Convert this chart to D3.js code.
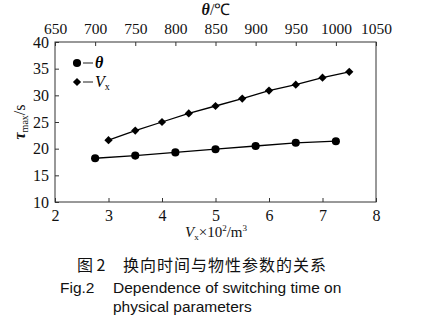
<!DOCTYPE html>
<html>
<head>
<meta charset="utf-8">
<script src="https://cdn.jsdelivr.net/npm/d3@7/dist/d3.min.js"></script>
<style>
  html, body { margin: 0; padding: 0; background: #fff; }
  svg { display: block; }
</style>
</head>
<body>
<svg id="chart" width="425" height="322"></svg>
<script>
// Switching time vs. temperature (top axis) and volume (bottom axis)
const vxTicks = [2, 3, 4, 5, 6, 7, 8];
const thetaTicks = [650, 700, 750, 800, 850, 900, 950, 1000, 1050];
const yTicks = [10, 15, 20, 25, 30, 35, 40];

const thetaX = [700, 750, 800, 850, 900, 950, 1000];
const thetaY = [18.2, 18.7, 19.3, 19.9, 20.5, 21.1, 21.4];

const vxX = [3, 3.5, 4, 4.5, 5, 5.5, 6, 6.5, 7, 7.5];
const vxY = [21.6, 23.4, 25.0, 26.6, 28.0, 29.4, 30.9, 32.0, 33.3, 34.4];

const serif = '"Liberation Serif", "Times New Roman", serif';
const svg = d3.select("#chart");
const L = 55, R = 376, T = 42, B = 202;

const x = d3.scaleLinear().domain([2, 8]).range([L, R]);
const xTop = d3.scaleLinear().domain([650, 1050]).range([L, R]);
const y = d3.scaleLinear().domain([10, 40]).range([B, T]);

// frame
svg.append("rect").attr("x", L).attr("y", T).attr("width", R - L).attr("height", B - T)
  .attr("fill", "none").attr("stroke", "#333").attr("stroke-width", 1);

function styleAxis(size) {
  return g => {
    g.select(".domain").remove();
    g.selectAll(".tick line").attr("stroke", "#333");
    g.selectAll(".tick text")
      .style("font-family", serif).style("font-size", size + "px").attr("fill", "#111");
  };
}

svg.append("g").attr("transform", `translate(0,${B})`)
  .call(d3.axisBottom(x).tickValues(vxTicks).tickSize(-4).tickPadding(8).tickFormat(d3.format("d")))
  .call(styleAxis(16));

svg.append("g").attr("transform", `translate(0,${T})`)
  .call(d3.axisTop(xTop).tickValues(thetaTicks).tickSize(-4).tickPadding(8).tickFormat(d3.format("d")))
  .call(styleAxis(15.5));

svg.append("g").attr("transform", `translate(${L},0)`)
  .call(d3.axisLeft(y).tickValues(yTicks).tickSize(-4).tickPadding(6).tickFormat(d3.format("d")))
  .call(styleAxis(16));

// series lines
const line = d3.line();
svg.append("path")
  .attr("d", line(thetaX.map((v, i) => [xTop(v), y(thetaY[i])])))
  .attr("fill", "none").attr("stroke", "#000").attr("stroke-width", 1.3);
svg.append("path")
  .attr("d", line(vxX.map((v, i) => [x(v), y(vxY[i])])))
  .attr("fill", "none").attr("stroke", "#000").attr("stroke-width", 1.3);

const circleSym = d3.symbol().type(d3.symbolCircle).size(52);
const squareSym = d3.symbol().type(d3.symbolSquare).size(34);

svg.append("g").selectAll("path").data(thetaX).join("path")
  .attr("d", circleSym)
  .attr("transform", (d, i) => `translate(${xTop(d)},${y(thetaY[i])})`)
  .attr("fill", "#000");

svg.append("g").selectAll("path").data(vxX).join("path")
  .attr("d", squareSym)
  .attr("transform", (d, i) => `translate(${x(d)},${y(vxY[i])}) rotate(45)`)
  .attr("fill", "#000");

// legend
const lg = svg.append("g");
lg.append("path").attr("d", circleSym).attr("transform", "translate(77,63)").attr("fill", "#000");
lg.append("line").attr("x1", 83).attr("x2", 93).attr("y1", 63).attr("y2", 63).attr("stroke", "#444").attr("stroke-width", 1.2);
lg.append("text").attr("x", 95).attr("y", 68).style("font-family", serif).style("font-size", "16px")
  .attr("font-style", "italic").attr("font-weight", "bold").text("θ");
lg.append("path").attr("d", squareSym).attr("transform", "translate(77,82) rotate(45)").attr("fill", "#000");
lg.append("line").attr("x1", 83).attr("x2", 93).attr("y1", 82).attr("y2", 82).attr("stroke", "#444").attr("stroke-width", 1.2);
const lv = lg.append("text").attr("x", 95).attr("y", 87).style("font-family", serif).style("font-size", "16px");
lv.append("tspan").attr("font-style", "italic").text("V");
lv.append("tspan").style("font-size", "10px").attr("dy", 3).text("x");

// axis titles
const tt = svg.append("text").attr("x", 216).attr("y", 15).attr("text-anchor", "middle")
  .style("font-family", serif).style("font-size", "16px").attr("fill", "#111");
tt.append("tspan").attr("font-style", "italic").attr("font-weight", "bold").text("θ");
tt.append("tspan").text("/℃");

const xt = svg.append("text").attr("x", 216).attr("y", 237).attr("text-anchor", "middle")
  .style("font-family", serif).style("font-size", "15px").attr("fill", "#111");
xt.append("tspan").attr("font-style", "italic").text("V");
xt.append("tspan").style("font-size", "9px").attr("dy", 3).text("x");
xt.append("tspan").attr("dy", -3).text("×10");
xt.append("tspan").style("font-size", "9px").attr("dy", -6).text("2");
xt.append("tspan").attr("dy", 6).text("/m");
xt.append("tspan").style("font-size", "9px").attr("dy", -6).text("3");

const yt = svg.append("text").attr("transform", "translate(25,122) rotate(-90)").attr("text-anchor", "middle")
  .style("font-family", serif).style("font-size", "16px").attr("fill", "#111");
yt.append("tspan").attr("font-style", "italic").attr("font-weight", "bold").text("τ");
yt.append("tspan").style("font-size", "10px").attr("dy", 3).text("max");
yt.append("tspan").attr("dy", -3).text("/s");

// caption
const sans = '"Liberation Sans", Arial, sans-serif';
const cjk = '"Noto Sans CJK SC", sans-serif';
svg.append("text").attr("x", 77).attr("y", 271).style("font-size", "16px").attr("fill", "#111")
  .style("font-family", cjk).text("图 2");
svg.append("text").attr("x", 123).attr("y", 271).style("font-size", "16px").attr("fill", "#111")
  .attr("letter-spacing", 1).style("font-family", cjk).text("换向时间与物性参数的关系");
svg.append("text").attr("x", 60).attr("y", 293).style("font-size", "15.5px").attr("fill", "#111")
  .style("font-family", sans).text("Fig.2");
svg.append("text").attr("x", 113).attr("y", 293).style("font-size", "15.5px").attr("fill", "#111")
  .style("font-family", sans).text("Dependence of switching time on");
svg.append("text").attr("x", 113).attr("y", 312).style("font-size", "15.5px").attr("fill", "#111")
  .style("font-family", sans).text("physical parameters");
</script>
</body>
</html>
